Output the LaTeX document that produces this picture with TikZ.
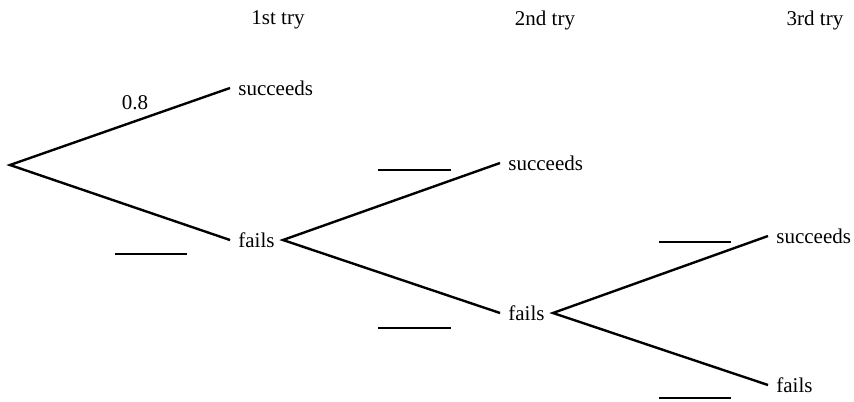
\documentclass[tikz,border=0pt]{standalone}
\usepackage{fontspec}
\setmainfont{Liberation Serif}
\usetikzlibrary{positioning}

\begin{document}
\begin{tikzpicture}[x=0.5pt, y=-0.5pt,
    branch/.style={line width=1.2pt},
    blank/.style={line width=0.7pt},
    outcome/.style={anchor=west, inner sep=4pt, font=\fontsize{10.5}{12}\selectfont},
    head/.style={font=\fontsize{10.5}{12}\selectfont}]
  \useasboundingbox (0,0) rectangle (854,401);
  % column headings
  \node[head] (h1) at (278,20) {1st try};
  \node[head] (h2) at (545,20) {2nd try};
  \node[head] (h3) at (815,20) {3rd try};
  % outcomes
  \coordinate (root) at (10,165);
  \node[outcome] (s1) at (230,88) {succeeds};
  \node[outcome] (f1) at (230,240) {fails};
  \node[outcome] (s2) at (500,163) {succeeds};
  \node[outcome] (f2) at (500,313) {fails};
  \node[outcome] (s3) at (768,236) {succeeds};
  \node[outcome] (f3) at (768,385) {fails};
  % branches
  \draw[branch] (s1.west) -- (root) -- (f1.west);
  \draw[branch] (s2.west) -- (f1.east) -- (f2.west);
  \draw[branch] (s3.west) -- (f2.east) -- (f3.west);
  \node[head] (p1) at (135,103) {0.8};
  % blanks to fill in
  \draw[blank] (115,254) -- (187,254);
  \draw[blank] (378,170) -- (451,170);
  \draw[blank] (378,328) -- (451,328);
  \draw[blank] (659,242) -- (731,242);
  \draw[blank] (659,398) -- (731,398);
\end{tikzpicture}
\end{document}
